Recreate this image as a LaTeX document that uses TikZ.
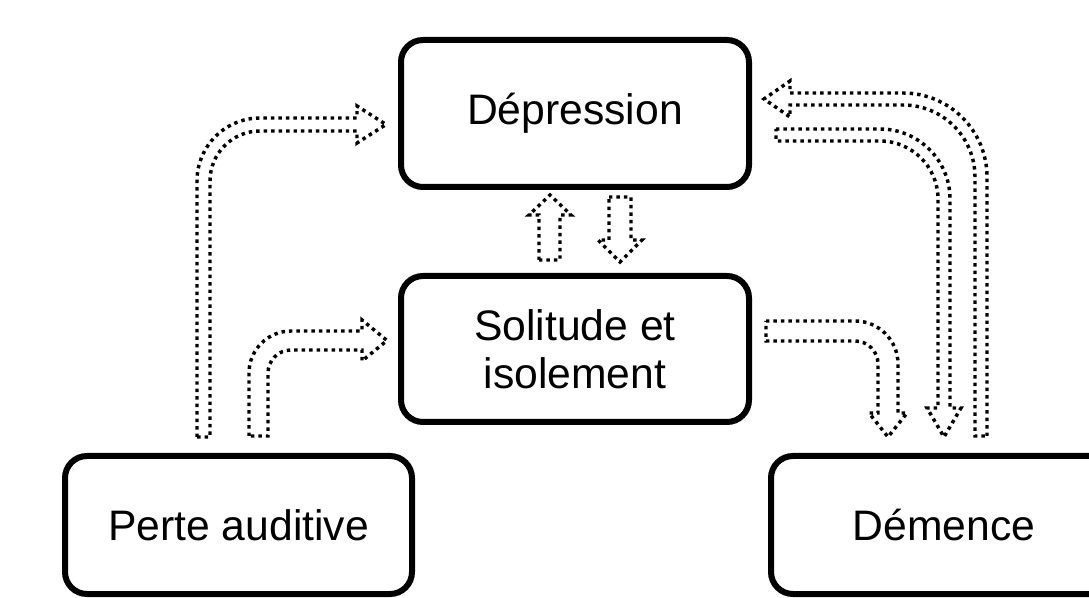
\documentclass[tikz,border=0pt]{standalone}
\usepackage{fontspec}
\setmainfont{Liberation Sans}
\begin{document}
\begin{tikzpicture}[x=0.75pt,y=-0.75pt,
  box/.style={draw=black,line width=4.5pt,rounded corners=16.5pt,fill=white,
    font=\fontsize{32pt}{36pt}\selectfont,align=center,inner sep=0pt},
  blockarrow/.style={draw=black,line width=2.6pt,dash pattern=on 2.6pt off 3pt,line join=miter}]
\useasboundingbox (0,0) rectangle (1089,598);
\clip (0,0) rectangle (1089,598);
\fill[white] (0,0) rectangle (1089,598);

% boxes
\node[box,minimum width=261pt,minimum height=110.25pt] (dep) at (575,113.5) {Dépression};
\node[box,minimum width=261pt,minimum height=109.5pt] (sol) at (575,349) {Solitude et\\isolement};
\node[box,minimum width=260.25pt,minimum height=103.5pt] (perte) at (238.5,525) {Perte auditive};
\node[box,minimum width=259.5pt,minimum height=103.5pt] (dem) at (944,525) {Démence};

% Perte -> Dépression
\draw[blockarrow] (197,437) -- (197,181)
  .. controls (197,146.2) and (225.2,118) .. (260,118) -- (357,118) -- (357,106)
  -- (386,124.5) -- (357,143) -- (357,131) -- (260,131)
  .. controls (232.4,131) and (210,153.4) .. (210,181) -- (210,437) -- cycle;

% Perte -> Solitude
\draw[blockarrow] (249,436) -- (249,373)
  .. controls (249,349.8) and (267.8,331) .. (291,331) -- (362,331) -- (362,320)
  -- (387,340.5) -- (362,361) -- (362,350) -- (291,350)
  .. controls (278.3,350) and (268,360.3) .. (268,373) -- (268,436) -- cycle;

% Solitude -> Dépression
\draw[blockarrow] (539,260) -- (539,215) -- (529,215) -- (550,195) -- (571,215)
  -- (560,215) -- (560,260) -- cycle;
% Dépression -> Solitude
\draw[blockarrow] (609,197) -- (631,197) -- (631,240) -- (642,240) -- (620,262)
  -- (598,240) -- (609,240) -- cycle;

% Démence -> Dépression
\draw[blockarrow] (987,436) -- (987,177)
  .. controls (987,130.6) and (949.4,93) .. (903,93) -- (790,93) -- (790,81)
  -- (764,99) -- (790,117) -- (790,105) -- (903,105)
  .. controls (942.8,105) and (975,137.2) .. (975,177) -- (975,436) -- cycle;

% Dépression -> Démence
\draw[blockarrow] (776,129) -- (880,129)
  .. controls (918.7,129) and (950,160.3) .. (950,199) -- (950,408) -- (961,408)
  -- (944,437) -- (927,408) -- (938,408) -- (938,199)
  .. controls (938,167) and (912,141) .. (880,141) -- (776,141) -- cycle;

% Solitude -> Démence
\draw[blockarrow] (766,321) -- (855,321)
  .. controls (878.7,321) and (898,340.3) .. (898,364) -- (898,413) -- (907,413)
  -- (888,437) -- (869,413) -- (878,413) -- (878,364)
  .. controls (878,351.3) and (867.7,341) .. (855,341) -- (766,341) -- cycle;
\end{tikzpicture}
\end{document}
